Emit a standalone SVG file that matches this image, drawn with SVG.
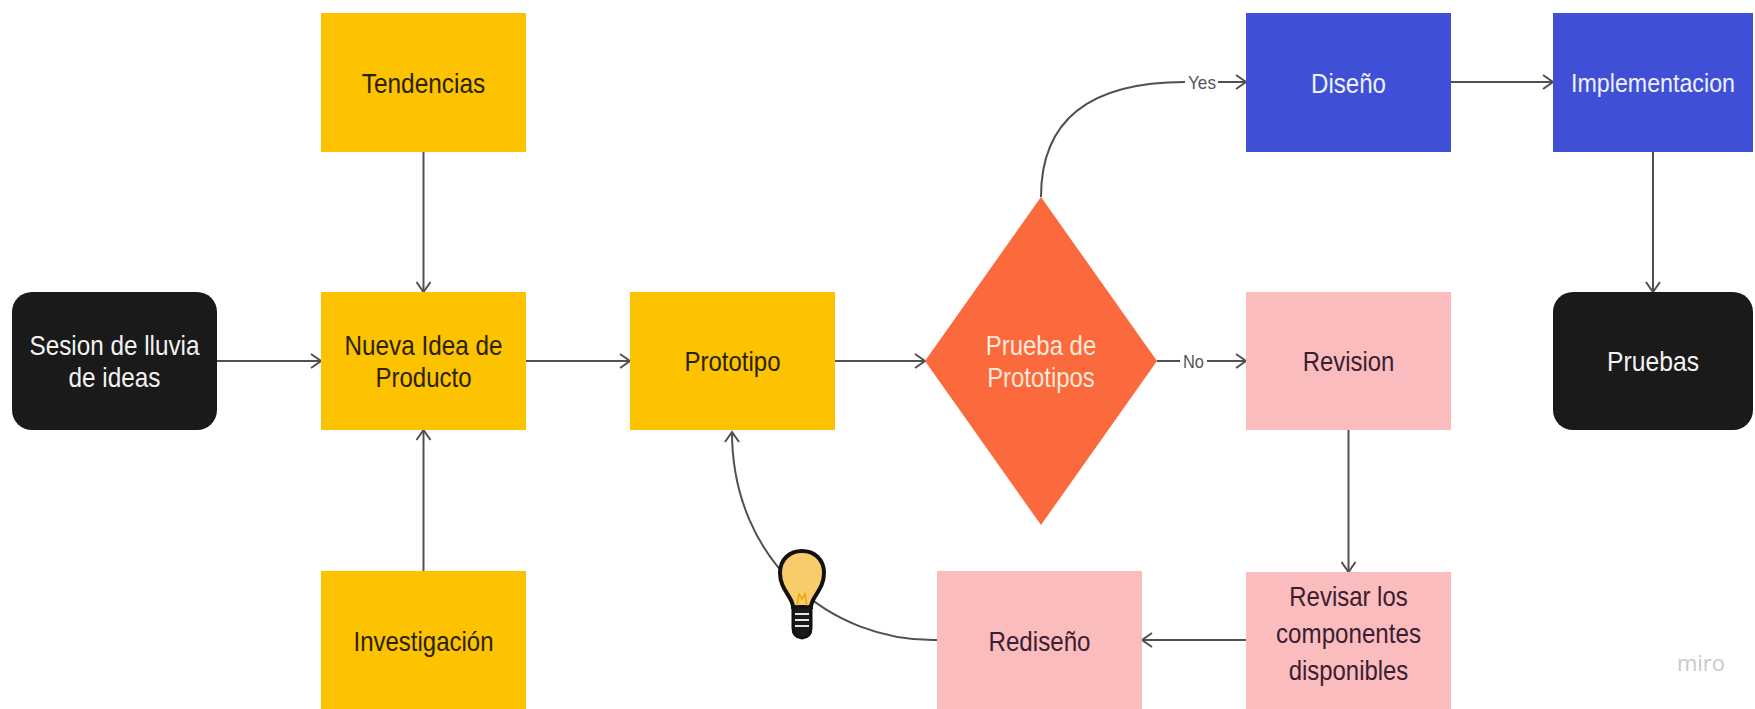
<svg xmlns="http://www.w3.org/2000/svg" width="1755" height="709" viewBox="0 0 1755 709">
<style>
  text { font-family: "Liberation Sans", Arial, sans-serif; font-size: 28px; text-anchor: middle; }
  .yellow { fill: #FDC300; }
  .blue { fill: #3F4FD6; }
  .pink { fill: #FBBCBE; }
  .black { fill: #1A1A1A; }
  .diamond { fill: #FA6A3C; }
  .t-dark { fill: #2A2200; }
  .t-pink { fill: #3A2030; }
  .t-light { fill: #EEF1FF; }
  .t-white { fill: #F2F2F2; }
  .t-dia { fill: #FFE8DA; }
  .conn { fill: none; stroke: #505050; stroke-width: 2; }
  .lbl { font-size: 19px; fill: #555; }
</style>
<defs>
  <marker id="arr" markerUnits="userSpaceOnUse" markerWidth="14" markerHeight="16" refX="11" refY="8" orient="auto">
    <path d="M1,1 L11,8 L1,15" fill="none" stroke="#505050" stroke-width="2"/>
  </marker>
</defs>
<rect width="1755" height="709" fill="#FFFFFF"/>

<g id="connectors">
  <line class="conn" x1="217" y1="361" x2="321" y2="361" marker-end="url(#arr)"/>
  <line class="conn" x1="423.5" y1="152" x2="423.5" y2="292" marker-end="url(#arr)"/>
  <line class="conn" x1="423.5" y1="571" x2="423.5" y2="430" marker-end="url(#arr)"/>
  <line class="conn" x1="526" y1="361" x2="630" y2="361" marker-end="url(#arr)"/>
  <line class="conn" x1="835" y1="361" x2="925" y2="361" marker-end="url(#arr)"/>
  <path class="conn" d="M1041 197 C1041 112 1100 82 1185 82"/>
  <text class="lbl" x="1202" y="89" textLength="28" lengthAdjust="spacingAndGlyphs">Yes</text>
  <line class="conn" x1="1218" y1="82" x2="1246" y2="82" marker-end="url(#arr)"/>
  <line class="conn" x1="1157" y1="361" x2="1180" y2="361"/>
  <text class="lbl" x="1193.5" y="368" textLength="21" lengthAdjust="spacingAndGlyphs">No</text>
  <line class="conn" x1="1207" y1="361" x2="1246" y2="361" marker-end="url(#arr)"/>
  <line class="conn" x1="1451" y1="82" x2="1553" y2="82" marker-end="url(#arr)"/>
  <line class="conn" x1="1653" y1="152" x2="1653" y2="292" marker-end="url(#arr)"/>
  <line class="conn" x1="1348.5" y1="430" x2="1348.5" y2="572" marker-end="url(#arr)"/>
  <line class="conn" x1="1246" y1="640" x2="1142" y2="640" marker-end="url(#arr)"/>
  <path class="conn" d="M937 640 C830 642 732 560 732 432" marker-end="url(#arr)"/>
  <g id="bulb">
    <path d="M793 607 C793 597 780 590 780 573 C780 559 790 551 802 551 C814 551 824 559 824 573 C824 590 811 597 811 607 Z" fill="#F9CC6B" stroke="#111" stroke-width="4"/>
    <path d="M797 606 L799 594 L802 599 L805 594 L807 606" fill="none" stroke="#E9A800" stroke-width="1.5"/>
    <path d="M793 607 L811 607 L811 628 Q811 637 802 638 Q793 637 793 628 Z" fill="#1A1A1A" stroke="#111" stroke-width="3"/>
    <line x1="795" y1="614" x2="809" y2="614" stroke="#E6E6E6" stroke-width="2"/>
    <line x1="795" y1="620" x2="809" y2="620" stroke="#E6E6E6" stroke-width="2"/>
    <line x1="795" y1="626" x2="809" y2="626" stroke="#E6E6E6" stroke-width="2"/>
  </g>
</g>

<g id="sesion">
  <rect class="black" x="12" y="292" width="205" height="138" rx="20"/>
  <text class="t-white" x="114.5" y="355" textLength="170" lengthAdjust="spacingAndGlyphs">Sesion de lluvia</text>
  <text class="t-white" x="114.5" y="387" textLength="92" lengthAdjust="spacingAndGlyphs">de ideas</text>
</g>
<g id="tendencias">
  <rect class="yellow" x="321" y="13" width="205" height="139"/>
  <text class="t-dark" x="423.5" y="93" textLength="123.6" lengthAdjust="spacingAndGlyphs">Tendencias</text>
</g>
<g id="nueva-idea">
  <rect class="yellow" x="321" y="292" width="205" height="138"/>
  <text class="t-dark" x="423.5" y="355" textLength="158" lengthAdjust="spacingAndGlyphs">Nueva Idea de</text>
  <text class="t-dark" x="423.5" y="387" textLength="96" lengthAdjust="spacingAndGlyphs">Producto</text>
</g>
<g id="investigacion">
  <rect class="yellow" x="321" y="571" width="205" height="138"/>
  <text class="t-dark" x="423.5" y="651" textLength="140" lengthAdjust="spacingAndGlyphs">Investigación</text>
</g>
<g id="prototipo">
  <rect class="yellow" x="630" y="292" width="205" height="138"/>
  <text class="t-dark" x="732.5" y="371" textLength="96" lengthAdjust="spacingAndGlyphs">Prototipo</text>
</g>
<g id="prueba">
  <polygon class="diamond" points="1041,197 1157,361 1041,525 925,361"/>
  <text class="t-dia" x="1041" y="355" textLength="110.4" lengthAdjust="spacingAndGlyphs">Prueba de</text>
  <text class="t-dia" x="1041" y="387" textLength="107.7" lengthAdjust="spacingAndGlyphs">Prototipos</text>
</g>
<g id="diseno">
  <rect class="blue" x="1246" y="13" width="205" height="139"/>
  <text class="t-light" x="1348.5" y="93" textLength="75" lengthAdjust="spacingAndGlyphs">Diseño</text>
</g>
<g id="implementacion">
  <rect class="blue" x="1553" y="13" width="200" height="139"/>
  <text class="t-light" x="1653" y="92" style="font-size:26px" textLength="164" lengthAdjust="spacingAndGlyphs">Implementacion</text>
</g>
<g id="revision">
  <rect class="pink" x="1246" y="292" width="205" height="138"/>
  <text class="t-pink" x="1348.5" y="371" textLength="91.7" lengthAdjust="spacingAndGlyphs">Revision</text>
</g>
<g id="pruebas">
  <rect class="black" x="1553" y="292" width="200" height="138" rx="20"/>
  <text class="t-white" x="1653" y="371" textLength="92" lengthAdjust="spacingAndGlyphs">Pruebas</text>
</g>
<g id="revisar">
  <rect class="pink" x="1246" y="572" width="205" height="138"/>
  <text class="t-pink" x="1348.5" y="606" textLength="118.3" lengthAdjust="spacingAndGlyphs">Revisar los</text>
  <text class="t-pink" x="1348.5" y="643" textLength="145" lengthAdjust="spacingAndGlyphs">componentes</text>
  <text class="t-pink" x="1348.5" y="680" textLength="119.7" lengthAdjust="spacingAndGlyphs">disponibles</text>
</g>
<g id="rediseno">
  <rect class="pink" x="937" y="571" width="205" height="138"/>
  <text class="t-pink" x="1039.5" y="651" textLength="102" lengthAdjust="spacingAndGlyphs">Rediseño</text>
</g>
<text x="1701" y="671" style="font-family: 'Open Sans', 'Liberation Sans', sans-serif; font-size: 22px; fill: #C8C8C8;">miro</text>
</svg>
